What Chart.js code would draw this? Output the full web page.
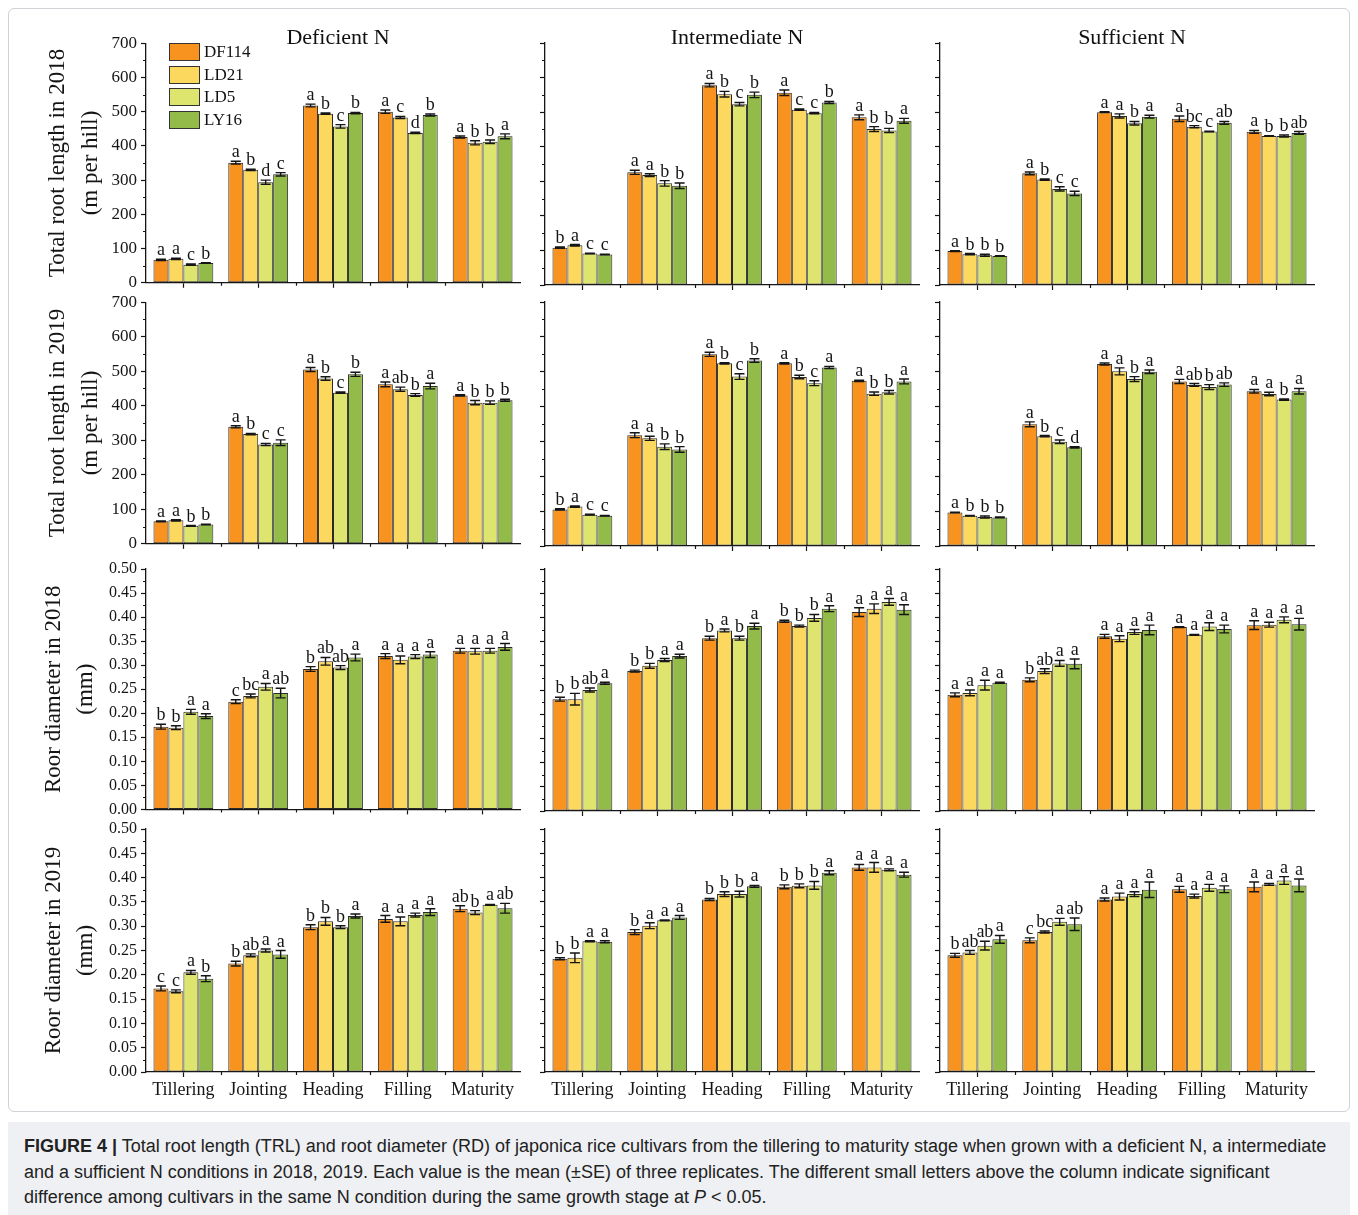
<!DOCTYPE html>
<html>
<head>
<meta charset="utf-8">
<script src="https://cdn.jsdelivr.net/npm/chart.js@4.4.1/dist/chart.umd.min.js"></script>
<style>
  html, body { margin: 0; padding: 0; background: #fff; }
  body { width: 1358px; height: 1215px; position: relative; overflow: hidden;
         font-family: "Liberation Serif", "Times New Roman", serif; color: #111; }
  .frame { position: absolute; left: 8px; top: 8px; width: 1340px; height: 1102px;
           border: 1px solid #cfd3d8; border-radius: 6px; }
  .ptitle { position: absolute; top: 26px; font-size: 22px; line-height: 22px;
            white-space: nowrap; transform: translateX(-50%); }
  .legend { position: absolute; left: 169px; top: 43px; }
  .legend .item { height: 22.5px; display: flex; align-items: flex-start; }
  .legend .sw { width: 29px; height: 16px; border: 1px solid #333; margin-right: 4px; }
  .legend .lab { font-size: 17px; line-height: 18px; }
  .caption { position: absolute; left: 8px; top: 1122px; width: 1342px; height: 100px;
             background: #eef0f3; box-sizing: border-box; padding: 12px 0 0 16px;
             font-family: "Liberation Sans", Arial, sans-serif; font-size: 18px;
             line-height: 25.5px; color: #222; white-space: nowrap; }
</style>
</head>
<body>
<div class="frame"></div>

<script>
// ---- categories and series ----
const stages = ['Tillering', 'Jointing', 'Heading', 'Filling', 'Maturity'];
const cultivars = ['DF114', 'LD21', 'LD5', 'LY16'];
const cultivarColors = ['#F7931E', '#FDD85E', '#DDE56F', '#93BB4A'];
const nLevels = ['Deficient N', 'Intermediate N', 'Sufficient N'];
const rowTitles = [
  ['Total root length in 2018', '(m per hill)'],
  ['Total root length in 2019', '(m per hill)'],
  ['Roor diameter in 2018', '(mm)'],
  ['Roor diameter in 2019', '(mm)']
];
const trlTicks = { max: 700, step: 100 };
const rdTicks = { max: 0.5, step: 0.05 };

// Each table: one row per cultivar (DF114, LD21, LD5, LY16), one column per stage.
// Total root length 2018
const trl18DefMean = [[67, 351, 518, 500, 426], [70, 330, 494, 483, 409], [53, 294, 457, 438, 412], [58, 317, 496, 490, 428]];
const trl18DefSe   = [[2, 4, 4, 5, 3], [2, 2, 2, 3, 6], [2, 6, 5, 2, 5], [1, 5, 2, 3, 7]];
const trl18DefLet  = [['a','a','a','a','a'], ['a','b','b','c','b'], ['c','d','c','d','b'], ['b','c','b','b','a']];

const trl18IntMean = [[108, 326, 578, 556, 485], [115, 318, 552, 507, 451], [91, 294, 523, 497, 447], [88, 287, 550, 528, 475]];
const trl18IntSe   = [[2, 6, 5, 8, 7], [2, 4, 8, 2, 7], [1, 8, 5, 2, 6], [1, 8, 8, 3, 7]];
const trl18IntLet  = [['b','a','a','a','a'], ['a','a','b','c','b'], ['c','b','c','c','b'], ['c','b','b','b','a']];

const trl18SufMean = [[98, 323, 500, 481, 443], [89, 305, 489, 458, 431], [86, 278, 468, 444, 431], [84, 265, 487, 469, 440]];
const trl18SufSe   = [[1, 4, 1, 8, 4], [2, 2, 6, 3, 1], [3, 6, 5, 1, 3], [1, 6, 4, 4, 4]];
const trl18SufLet  = [['a','a','a','a','a'], ['b','b','a','bc','b'], ['b','c','b','c','b'], ['b','c','a','ab','ab']];

// Total root length 2019
const trl19DefMean = [[65, 339, 505, 462, 430], [68, 318, 479, 448, 409], [52, 288, 438, 431, 409], [56, 293, 491, 457, 416]];
const trl19DefSe   = [[1, 3, 6, 7, 2], [2, 2, 5, 6, 6], [1, 3, 2, 4, 5], [1, 8, 6, 8, 3]];
const trl19DefLet  = [['a','a','a','a','a'], ['a','b','b','ab','b'], ['b','c','c','b','b'], ['b','c','b','a','b']];

const trl19IntMean = [[105, 318, 550, 524, 474], [113, 309, 524, 485, 437], [90, 285, 486, 467, 441], [87, 277, 532, 512, 472]];
const trl19IntSe   = [[2, 7, 6, 2, 2], [2, 6, 2, 5, 5], [1, 8, 8, 7, 5], [1, 8, 5, 3, 7]];
const trl19IntLet  = [['b','a','a','a','a'], ['a','a','b','b','b'], ['c','b','c','c','b'], ['c','b','b','a','a']];

const trl19SufMean = [[96, 349, 522, 472, 444], [87, 315, 501, 462, 436], [83, 299, 479, 456, 420], [82, 283, 500, 463, 444]];
const trl19SufSe   = [[1, 7, 3, 6, 5], [1, 2, 10, 4, 5], [3, 5, 7, 7, 2], [1, 2, 5, 5, 8]];
const trl19SufLet  = [['a','a','a','a','a'], ['b','b','a','ab','a'], ['b','c','b','b','b'], ['b','d','a','ab','a']];

// Root diameter 2018
const rd18DefMean = [[0.172, 0.224, 0.292, 0.319, 0.330], [0.170, 0.236, 0.308, 0.311, 0.329], [0.203, 0.255, 0.295, 0.318, 0.330], [0.194, 0.242, 0.316, 0.322, 0.338]];
const rd18DefSe   = [[0.005, 0.004, 0.005, 0.005, 0.005], [0.004, 0.004, 0.008, 0.008, 0.006], [0.005, 0.007, 0.004, 0.004, 0.005], [0.005, 0.010, 0.007, 0.006, 0.007]];
const rd18DefLet  = [['b','c','b','a','a'], ['b','bc','ab','a','a'], ['a','a','ab','a','a'], ['a','ab','a','a','a']];

const rd18IntMean = [[0.231, 0.289, 0.357, 0.392, 0.411], [0.231, 0.300, 0.373, 0.382, 0.418], [0.250, 0.312, 0.357, 0.399, 0.432], [0.264, 0.320, 0.382, 0.418, 0.416]];
const rd18IntSe   = [[0.004, 0.002, 0.004, 0.002, 0.009], [0.012, 0.005, 0.003, 0.002, 0.010], [0.004, 0.003, 0.004, 0.007, 0.007], [0.002, 0.004, 0.006, 0.006, 0.010]];
const rd18IntLet  = [['b','b','b','b','a'], ['b','b','a','b','a'], ['ab','a','b','b','a'], ['a','a','a','a','a']];

const rd18SufMean = [[0.240, 0.271, 0.361, 0.380, 0.384], [0.244, 0.289, 0.356, 0.364, 0.385], [0.260, 0.305, 0.370, 0.381, 0.395], [0.265, 0.304, 0.374, 0.376, 0.386]];
const rd18SufSe   = [[0.004, 0.004, 0.004, 0.001, 0.009], [0.006, 0.005, 0.006, 0.001, 0.005], [0.010, 0.006, 0.005, 0.008, 0.006], [0.001, 0.010, 0.010, 0.008, 0.012]];
const rd18SufLet  = [['a','b','a','a','a'], ['a','ab','a','a','a'], ['a','a','a','a','a'], ['a','a','a','a','a']];

// Root diameter 2019
const rd19DefMean = [[0.172, 0.223, 0.298, 0.315, 0.336], [0.166, 0.240, 0.310, 0.310, 0.328], [0.205, 0.250, 0.298, 0.323, 0.344], [0.192, 0.242, 0.321, 0.329, 0.337]];
const rd19DefSe   = [[0.005, 0.005, 0.005, 0.007, 0.006], [0.003, 0.003, 0.008, 0.009, 0.004], [0.004, 0.003, 0.003, 0.004, 0.001], [0.006, 0.008, 0.004, 0.007, 0.010]];
const rd19DefLet  = [['c','b','b','a','ab'], ['c','ab','b','a','b'], ['a','a','b','a','a'], ['b','a','a','a','ab']];

const rd19IntMean = [[0.233, 0.288, 0.355, 0.381, 0.421], [0.235, 0.301, 0.366, 0.383, 0.421], [0.269, 0.312, 0.366, 0.384, 0.416], [0.268, 0.318, 0.382, 0.410, 0.406]];
const rd19IntSe   = [[0.002, 0.005, 0.002, 0.004, 0.006], [0.010, 0.006, 0.005, 0.004, 0.010], [0.001, 0.001, 0.006, 0.008, 0.002], [0.002, 0.004, 0.002, 0.004, 0.005]];
const rd19IntLet  = [['b','b','b','b','a'], ['b','a','b','b','a'], ['a','a','b','b','a'], ['a','a','a','a','a']];

const rd19SufMean = [[0.240, 0.271, 0.355, 0.376, 0.381], [0.246, 0.288, 0.361, 0.362, 0.386], [0.260, 0.309, 0.366, 0.379, 0.394], [0.273, 0.304, 0.375, 0.376, 0.384]];
const rd19SufSe   = [[0.004, 0.005, 0.003, 0.006, 0.010], [0.004, 0.002, 0.007, 0.004, 0.002], [0.009, 0.007, 0.005, 0.007, 0.008], [0.008, 0.013, 0.016, 0.007, 0.013]];
const rd19SufLet  = [['b','c','a','a','a'], ['ab','bc','a','a','a'], ['ab','a','a','a','a'], ['a','ab','a','a','a']];

const panels = [
  { row: 0, col: 0, mean: trl18DefMean, se: trl18DefSe, letters: trl18DefLet },
  { row: 0, col: 1, mean: trl18IntMean, se: trl18IntSe, letters: trl18IntLet },
  { row: 0, col: 2, mean: trl18SufMean, se: trl18SufSe, letters: trl18SufLet },
  { row: 1, col: 0, mean: trl19DefMean, se: trl19DefSe, letters: trl19DefLet },
  { row: 1, col: 1, mean: trl19IntMean, se: trl19IntSe, letters: trl19IntLet },
  { row: 1, col: 2, mean: trl19SufMean, se: trl19SufSe, letters: trl19SufLet },
  { row: 2, col: 0, mean: rd18DefMean, se: rd18DefSe, letters: rd18DefLet },
  { row: 2, col: 1, mean: rd18IntMean, se: rd18IntSe, letters: rd18IntLet },
  { row: 2, col: 2, mean: rd18SufMean, se: rd18SufSe, letters: rd18SufLet },
  { row: 3, col: 0, mean: rd19DefMean, se: rd19DefSe, letters: rd19DefLet },
  { row: 3, col: 1, mean: rd19IntMean, se: rd19IntSe, letters: rd19IntLet },
  { row: 3, col: 2, mean: rd19SufMean, se: rd19SufSe, letters: rd19SufLet }
];

// ---- grid geometry of the 4 x 3 panel layout ----
const plotLeft = [146, 545, 940];
const plotW = 374;
const plotTop = [43, 302, 569, 829];
const plotH = [242, 244, 242, 243];
const padT = 14, padR = 6;
const SERIF = '"Liberation Serif", "Times New Roman", serif';
const INK = '#151515';

Chart.defaults.font.family = SERIF;
Chart.defaults.color = INK;

// half-step tick marks on y and group-boundary tick marks on x
const minorTicks = {
  id: 'minorTicks',
  afterDraw(chart) {
    const { ctx, scales: { x, y }, chartArea } = chart;
    ctx.save();
    ctx.strokeStyle = INK;
    ctx.lineWidth = 1.2;
    ctx.beginPath();
    const t = y.ticks;
    for (let i = 0; i < t.length - 1; i++) {
      const py = Math.round(y.getPixelForValue((t[i].value + t[i + 1].value) / 2)) + 0.5;
      ctx.moveTo(chartArea.left, py);
      ctx.lineTo(chartArea.left - 3, py);
    }
    for (let i = 1; i < stages.length; i++) {
      const px = Math.round((x.getPixelForValue(i - 1) + x.getPixelForValue(i)) / 2) + 0.5;
      ctx.moveTo(px, chartArea.bottom);
      ctx.lineTo(px, chartArea.bottom + 3);
    }
    ctx.stroke();
    ctx.restore();
  }
};

// SE whiskers and significance letters above every bar
const errorLetters = {
  id: 'errorLetters',
  afterDatasetsDraw(chart, args, opts) {
    const { ctx } = chart;
    const y = chart.scales.y;
    ctx.save();
    ctx.strokeStyle = INK;
    ctx.fillStyle = INK;
    ctx.lineWidth = 1.4;
    ctx.font = '18px ' + SERIF;
    ctx.textAlign = 'center';
    ctx.textBaseline = 'alphabetic';
    chart.data.datasets.forEach((ds, i) => {
      chart.getDatasetMeta(i).data.forEach((bar, j) => {
        const m = ds.data[j];
        const e = opts.se[i][j];
        const yt = y.getPixelForValue(m + e);
        const yb = y.getPixelForValue(m - e);
        const half = 5;
        ctx.beginPath();
        ctx.moveTo(bar.x, yt); ctx.lineTo(bar.x, yb);
        ctx.moveTo(bar.x - half, yt); ctx.lineTo(bar.x + half, yt);
        ctx.moveTo(bar.x - half, yb); ctx.lineTo(bar.x + half, yb);
        ctx.stroke();
        ctx.fillText(opts.letters[i][j], bar.x, yt - 4);
      });
    });
    ctx.restore();
  }
};

function makePanel(p) {
  const isTRL = p.row < 2;
  const first = p.col === 0;
  const bottomRow = p.row === 3;
  const canvasLeft = first ? (isTRL ? 40 : 38) : plotLeft[p.col] - 20;
  const yW = plotLeft[p.col] - canvasLeft;
  const xH = bottomRow ? 34 : 12;
  const W = yW + plotW + padR;
  const H = padT + plotH[p.row] + xH;
  const cv = document.createElement('canvas');
  cv.width = W; cv.height = H;
  cv.style.cssText = `position:absolute;left:${canvasLeft}px;top:${plotTop[p.row] - padT}px;width:${W}px;height:${H}px;`;
  document.body.appendChild(cv);
  const range = isTRL ? trlTicks : rdTicks;

  new Chart(cv, {
    type: 'bar',
    data: {
      labels: stages,
      datasets: cultivars.map((name, i) => ({
        label: name,
        data: p.mean[i],
        backgroundColor: cultivarColors[i],
        borderColor: '#2a2a2a',
        borderWidth: 1,
        borderSkipped: false,
        categoryPercentage: 0.8,
        barPercentage: 1.0
      }))
    },
    options: {
      responsive: false,
      devicePixelRatio: 1,
      animation: false,
      layout: { padding: { top: padT, right: padR, bottom: 0, left: 0 } },
      plugins: {
        legend: { display: false },
        tooltip: { enabled: false },
        errorLetters: { se: p.se, letters: p.letters }
      },
      scales: {
        x: {
          type: 'category',
          offset: true,
          grid: { display: true, drawOnChartArea: false, offset: false, drawTicks: true,
                  tickLength: 5, color: INK, tickWidth: 1.2 },
          border: { display: true, color: INK, width: 1.3 },
          ticks: { display: bottomRow, font: { size: 18, family: SERIF }, color: INK,
                   padding: 2, maxRotation: 0, autoSkip: false },
          afterFit(s) { s.height = xH; }
        },
        y: {
          min: 0,
          max: range.max,
          grid: { display: true, drawOnChartArea: false, drawTicks: true,
                  tickLength: 5, color: INK, tickWidth: 1.2 },
          border: { display: true, color: INK, width: 1.3 },
          ticks: {
            display: first,
            stepSize: range.step,
            padding: 4,
            color: INK,
            font: { size: isTRL ? 17 : 16, family: SERIF },
            callback: v => isTRL ? String(Math.round(v)) : Number(v).toFixed(2)
          },
          title: {
            display: first,
            text: rowTitles[p.row],
            color: INK,
            font: { size: 23, family: SERIF, lineHeight: isTRL ? 1.43 : 1.4 },
            padding: { top: isTRL ? 2 : 0, bottom: 0 }
          },
          afterFit(s) { s.width = yW; }
        }
      }
    },
    plugins: [minorTicks, errorLetters]
  });
}

panels.forEach(makePanel);

// column headings
const titleCenters = [338, 737, 1132];
nLevels.forEach((t, i) => {
  const d = document.createElement('div');
  d.className = 'ptitle';
  d.style.left = titleCenters[i] + 'px';
  d.textContent = t;
  document.body.appendChild(d);
});

// legend in the first panel
const lg = document.createElement('div');
lg.className = 'legend';
cultivars.forEach((c, i) => {
  const it = document.createElement('div');
  it.className = 'item';
  it.innerHTML = `<div class="sw" style="background:${cultivarColors[i]}"></div><div class="lab">${c}</div>`;
  lg.appendChild(it);
});
document.body.appendChild(lg);
</script>

<div class="caption"><b>FIGURE 4 |</b> Total root length (TRL) and root diameter (RD) of japonica rice cultivars from the tillering to maturity stage when grown with a deficient N, a intermediate<br>and a sufficient N conditions in 2018, 2019. Each value is the mean (±SE) of three replicates. The different small letters above the column indicate significant<br>difference among cultivars in the same N condition during the same growth stage at <i>P</i> &lt; 0.05.</div>
</body>
</html>
